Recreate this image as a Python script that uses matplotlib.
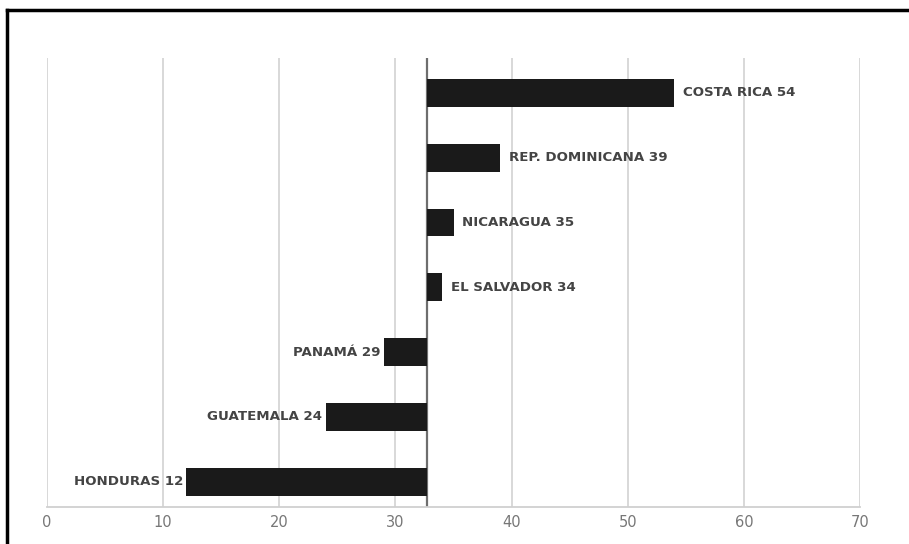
import matplotlib
matplotlib.use("Agg")
import matplotlib.pyplot as plt
from matplotlib.lines import Line2D

countries = ["HONDURAS", "GUATEMALA", "PANAMÁ", "EL SALVADOR", "NICARAGUA", "REP. DOMINICANA", "COSTA RICA"]
values = [12, 24, 29, 34, 35, 39, 54]
baseline = 32.7
xticks = [0, 10, 20, 30, 40, 50, 60, 70]

fig = plt.figure(figsize=(9.09, 5.44), dpi=100)
ax = fig.add_axes([47/909, 1-507/544, (860-47)/909, (507-58)/544])

ypos = list(range(len(countries)))
widths = [v - baseline for v in values]
ax.barh(ypos, widths, left=baseline, height=0.43, color="#1a1a1a", zorder=3)

for y, c, v in zip(ypos, countries, values):
    txt = f"{c} {v}"
    if v >= baseline:
        ax.text(v + 0.75, y, txt, ha="left", va="center", fontsize=9.6,
                fontweight="bold", color="#444444", family="DejaVu Sans", zorder=4)
    else:
        ax.text(v - 0.3, y, txt, ha="right", va="center", fontsize=9.6,
                fontweight="bold", color="#444444", family="DejaVu Sans", zorder=4)

ax.set_xlim(0, 70)
ax.set_ylim(-0.39, 6.54)
ax.set_xticks(xticks)
ax.set_xticklabels([str(t) for t in xticks], fontsize=10.5, color="#777777", family="Liberation Sans Narrow")
ax.set_yticks([])
ax.tick_params(axis="x", length=0, pad=6)
ax.xaxis.grid(True, color="#d6d6d6", linewidth=1.3, zorder=0)
ax.set_axisbelow(True)
for s in ["top", "right", "left"]:
    ax.spines[s].set_visible(False)
ax.spines["bottom"].set_color("#d0d0d0")
ax.spines["bottom"].set_linewidth(1.3)
ax.axvline(baseline, color="#6e6e6e", linewidth=1.6, zorder=2)

# outer frame
fig.add_artist(Line2D([7/909, 7/909], [0, 1-9.5/544], transform=fig.transFigure, color="black", linewidth=2.5))
fig.add_artist(Line2D([7/909, 1], [1-9.5/544, 1-9.5/544], transform=fig.transFigure, color="black", linewidth=2.5))

fig.savefig("out.png", dpi=100)
